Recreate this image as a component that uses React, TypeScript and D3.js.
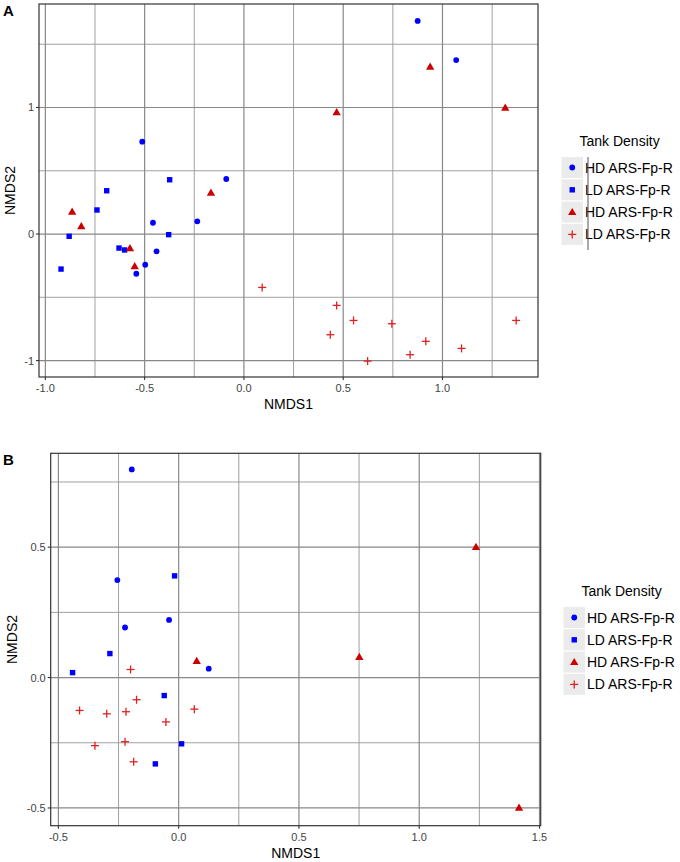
import React from "react";
import * as d3 from "d3";

// ---------- Data ----------
const groups = ["HD ARS-Fp-R", "LD ARS-Fp-R", "HD ARS-Fp-R ", "LD ARS-Fp-R "];
const groupLabels = ["HD ARS-Fp-R", "LD ARS-Fp-R", "HD ARS-Fp-R", "LD ARS-Fp-R"];
const groupShapes = ["circle", "square", "triangle", "cross"];
const groupColors = ["#0000ff", "#0000ff", "#cc0000", "#dd2222"];

// Panel A
const aHDcirc_x = [0.875, 1.069, -0.512, -0.089, -0.458, -0.235, -0.44, -0.497, -0.542];
const aHDcirc_y = [1.684, 1.375, 0.73, 0.435, 0.089, 0.1, -0.137, -0.243, -0.314];
const aLDsq_x = [-0.374, -0.691, -0.74, -0.88, -0.921, -0.629, -0.601, -0.379];
const aLDsq_y = [0.429, 0.342, 0.19, -0.018, -0.277, -0.111, -0.126, -0.005];
const aHDtri_x = [0.938, 0.467, 1.316, -0.166, -0.865, -0.819, -0.574, -0.55];
const aHDtri_y = [1.323, 0.962, 0.999, 0.327, 0.177, 0.061, -0.113, -0.255];
const aLDcr_x = [0.092, 0.467, 0.435, 0.552, 0.623, 0.745, 0.837, 0.916, 1.096, 1.371];
const aLDcr_y = [-0.422, -0.564, -0.796, -0.683, -1.004, -0.709, -0.954, -0.848, -0.904, -0.683];

// Panel B
const bHDcirc_x = [-0.195, -0.255, -0.223, -0.04, 0.125];
const bHDcirc_y = [0.798, 0.374, 0.192, 0.221, 0.034];
const bLDsq_x = [-0.017, -0.286, -0.441, -0.06, 0.012, -0.097];
const bLDsq_y = [0.39, 0.092, 0.019, -0.069, -0.254, -0.331];
const bHDtri_x = [0.075, 0.751, 1.236, 1.415];
const bHDtri_y = [0.064, 0.079, 0.501, -0.499];
const bLDcr_x = [-0.2, -0.175, -0.412, -0.299, -0.219, 0.065, -0.053, -0.348, -0.223, -0.187];
const bLDcr_y = [0.031, -0.085, -0.126, -0.139, -0.131, -0.121, -0.17, -0.261, -0.246, -0.323];

const aXTicks = [-1.0, -0.5, 0.0, 0.5, 1.0];
const aXTickLabels = ["-1.0", "-0.5", "0.0", "0.5", "1.0"];
const aXMinor = [-0.75, -0.25, 0.25, 0.75, 1.25];
const aYTicks = [-1, 0, 1];
const aYTickLabels = ["-1", "0", "1"];
const aYMinor = [-0.5, 0.5, 1.5];

const bXTicks = [-0.5, 0.0, 0.5, 1.0, 1.5];
const bXTickLabels = ["-0.5", "0.0", "0.5", "1.0", "1.5"];
const bXMinor = [-0.25, 0.25, 0.75, 1.25];
const bYTicks = [-0.5, 0.0, 0.5];
const bYTickLabels = ["-0.5", "0.0", "0.5"];
const bYMinor = [-0.25, 0.25, 0.75];

const FONT = "'Liberation Sans', Arial, sans-serif";

type Pt = { x: number; y: number; g: number };

function zip(xs: number[], ys: number[], g: number): Pt[] {
  return xs.map((x, i) => ({ x, y: ys[i], g }));
}

function Marker({ cx, cy, g, scale = 1 }: { cx: number; cy: number; g: number; scale?: number }) {
  const shape = groupShapes[g];
  const color = groupColors[g];
  if (shape === "circle") return <circle cx={cx} cy={cy} r={2.9 * scale} fill={color} />;
  if (shape === "square") {
    const s = 5.4 * scale;
    return <rect x={cx - s / 2} y={cy - s / 2} width={s} height={s} fill={color} />;
  }
  if (shape === "triangle") {
    const sym = d3.symbol().type(d3.symbolTriangle).size(30 * scale * scale)();
    return <path d={sym || ""} transform={`translate(${cx},${cy + 0.6})`} fill={color} />;
  }
  const h = 4 * scale;
  return (
    <g stroke={color} strokeWidth={1.3}>
      <line x1={cx - h} x2={cx + h} y1={cy} y2={cy} />
      <line x1={cx} x2={cx} y1={cy - h} y2={cy + h} />
    </g>
  );
}

function Panel(props: {
  label: string;
  left: number; right: number; top: number; bottom: number;
  xDomain: [number, number]; yDomain: [number, number];
  xTicks: number[]; xTickLabels: string[]; xMinor: number[];
  yTicks: number[]; yTickLabels: string[]; yMinor: number[];
  points: Pt[];
  yTitleX: number;
  legendX: number; legendY: number; artifact?: boolean;
}) {
  const { left, right, top, bottom } = props;
  const x = d3.scaleLinear().domain(props.xDomain).range([left, right]);
  const y = d3.scaleLinear().domain(props.yDomain).range([bottom, top]);
  const gridColor = "#a0a0a0";
  const lx = props.legendX;
  const ly = props.legendY;
  return (
    <g>
      <text x={3} y={props.top + 12} fontFamily={FONT} fontWeight="bold" fontSize={15}>{props.label}</text>
      {/* grid */}
      {props.xMinor.map((v) => (
        <line key={"xm" + v} x1={x(v)} x2={x(v)} y1={top} y2={bottom} stroke={gridColor} strokeWidth={1} />
      ))}
      {props.yMinor.map((v) => (
        <line key={"ym" + v} y1={y(v)} y2={y(v)} x1={left} x2={right} stroke={gridColor} strokeWidth={1} />
      ))}
      {props.xTicks.map((v) => (
        <line key={"xM" + v} x1={x(v)} x2={x(v)} y1={top} y2={bottom} stroke="#888" strokeWidth={1.2} />
      ))}
      {props.yTicks.map((v) => (
        <line key={"yM" + v} y1={y(v)} y2={y(v)} x1={left} x2={right} stroke="#888" strokeWidth={1.2} />
      ))}
      <rect x={left} y={top} width={right - left} height={bottom - top} fill="none" stroke="#333" strokeWidth={1.2} />
      {/* ticks */}
      {props.xTicks.map((v, i) => (
        <g key={"xt" + v}>
          <line x1={x(v)} x2={x(v)} y1={bottom} y2={bottom + 3} stroke="#333" strokeWidth={1.1} />
          <text x={x(v)} y={bottom + 15} textAnchor="middle" fontFamily={FONT} fontSize={11} fill="#444">{props.xTickLabels[i]}</text>
        </g>
      ))}
      {props.yTicks.map((v, i) => (
        <g key={"yt" + v}>
          <line x1={left - 3} x2={left} y1={y(v)} y2={y(v)} stroke="#333" strokeWidth={1.1} />
          <text x={left - 5} y={y(v) + 4} textAnchor="end" fontFamily={FONT} fontSize={11} fill="#444">{props.yTickLabels[i]}</text>
        </g>
      ))}
      <text x={(left + right) / 2} y={bottom + 32} textAnchor="middle" fontFamily={FONT} fontSize={14}>NMDS1</text>
      <text transform={`translate(${props.yTitleX},${(top + bottom) / 2}) rotate(-90)`} textAnchor="middle" fontFamily={FONT} fontSize={14}>NMDS2</text>
      {/* points */}
      {props.points.map((p, i) => (
        <Marker key={"p" + i} cx={x(p.x)} cy={y(p.y)} g={p.g} />
      ))}
      {/* legend */}
      <text x={lx + 18} y={ly} fontFamily={FONT} fontSize={14}>Tank Density</text>
      {groups.map((gname, i) => (
        <g key={"lg" + i}>
          <rect x={lx} y={ly + 11 + i * 22.3} width={21.5} height={21} fill="#ebebeb" />
          <Marker cx={lx + 10.75} cy={ly + 21.5 + i * 22.3} g={i} />
          <text x={lx + 23.5} y={ly + 26.5 + i * 22.3} fontFamily={FONT} fontSize={14}>{groupLabels[i]}</text>
        </g>
      ))}
      {props.artifact && (
        <line x1={lx + 26.5} x2={lx + 26.5} y1={ly + 11} y2={ly + 104} stroke="#555" strokeWidth={1} />
      )}
    </g>
  );
}

export default function App() {
  const ptsA = [
    ...zip(aHDcirc_x, aHDcirc_y, 0),
    ...zip(aLDsq_x, aLDsq_y, 1),
    ...zip(aHDtri_x, aHDtri_y, 2),
    ...zip(aLDcr_x, aLDcr_y, 3),
  ];
  const ptsB = [
    ...zip(bHDcirc_x, bHDcirc_y, 0),
    ...zip(bLDsq_x, bLDsq_y, 1),
    ...zip(bHDtri_x, bHDtri_y, 2),
    ...zip(bLDcr_x, bLDcr_y, 3),
  ];
  return (
    <svg width={680} height={862} style={{ position: "absolute", left: 0, top: 0, background: "#fff" }}>
      <rect width={680} height={862} fill="#fff" />
      <Panel
        label="A"
        left={39} right={538} top={4} bottom={377}
        xDomain={[-1.032, 1.481]} yDomain={[-1.13, 1.818]}
        xTicks={aXTicks} xTickLabels={aXTickLabels} xMinor={aXMinor}
        yTicks={aYTicks} yTickLabels={aYTickLabels} yMinor={aYMinor}
        points={ptsA}
        yTitleX={15}
        legendX={561.5} legendY={146} artifact
      />
      <Panel
        label="B"
        left={50.7} right={540.7} top={453.3} bottom={825.7}
        xDomain={[-0.532, 1.505]} yDomain={[-0.568, 0.86]}
        xTicks={bXTicks} xTickLabels={bXTickLabels} xMinor={bXMinor}
        yTicks={bYTicks} yTickLabels={bYTickLabels} yMinor={bYMinor}
        points={ptsB}
        yTitleX={17}
        legendX={563.5} legendY={596}
      />
    </svg>
  );
}
